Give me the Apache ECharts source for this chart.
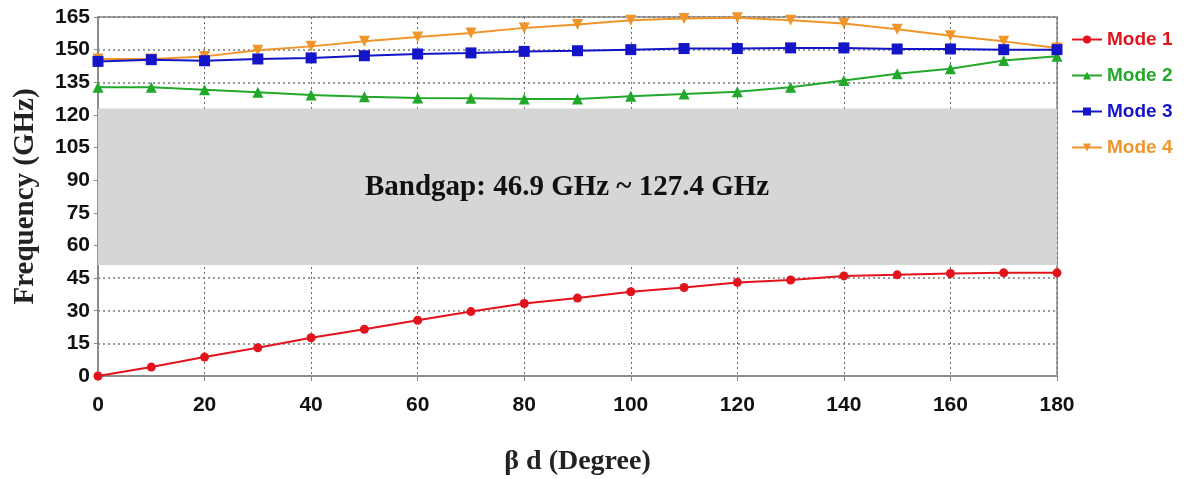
<!DOCTYPE html>
<html><head><meta charset="utf-8">
<script src="https://cdn.jsdelivr.net/npm/echarts@6/dist/echarts.min.js"></script>
<style>html,body{margin:0;padding:0;background:#fff}#c{width:1186px;height:479px}</style>
</head><body><div id="c"></div>
<script>
const betaD = [0,10,20,30,40,50,60,70,80,90,100,110,120,130,140,150,160,170,180];
const mode1 = [0,4.1,8.7,13,17.6,21.5,25.6,29.6,33.3,35.8,38.7,40.7,43,44.1,46,46.5,47.1,47.4,47.4];
const mode2 = [132.7,132.7,131.6,130.4,129.1,128.4,127.8,127.6,127.3,127.3,128.6,129.6,130.7,132.7,135.8,138.9,141.2,145,147];
const mode3 = [144.6,145.4,144.9,145.7,146.2,147.2,148,148.5,149.2,149.5,150,150.5,150.5,150.8,150.8,150.3,150.3,150,150];
const mode4 = [145.7,145.7,146.9,149.7,151.5,153.8,155.8,157.7,160,161.5,163.5,164.3,164.6,163.5,162,159.4,156.4,153.8,150.8];
const seriesNames = ['Mode 1','Mode 2','Mode 3','Mode 4'];
const bandgap = [51, 123];
const bandText = 'Bandgap: 46.9 GHz ~ 127.4 GHz';

const colors = ['#e3131c','#22a82a','#1414c8','#f0952a'];
const symbols = ['circle','triangle','rect','triangle'];
const rot = [0,0,0,180];
const sets = [mode1,mode2,mode3,mode4];
const sansBold = "'Liberation Sans',Arial,sans-serif";
const serif = "'Liberation Serif','Times New Roman',serif";
const tickFont = {fontFamily:sansBold, fontWeight:'bold', fontSize:21, color:'#111'};

const chart = echarts.init(document.getElementById('c'));
const series = sets.map((d,i)=>({
  name: seriesNames[i], type:'line',
  data: betaD.map((x,j)=>[x,d[j]]),
  symbol: symbols[i], symbolRotate: rot[i], symbolSize: i===0?9:11,
  lineStyle:{color:colors[i], width:2},
  itemStyle:{color:colors[i]},
  z: 5 + (i===3?0:i),
  animation:false
}));
series.unshift({
  type:'line', data:[], z:-1, silent:true,
  markArea:{
    silent:true,
    itemStyle:{color:'#d6d6d6'},
    label:{show:false},
    data:[[{yAxis:bandgap[0]},{yAxis:bandgap[1]}]]
  }
});
chart.setOption({
  backgroundColor:'#fff',
  animation:false,
  grid:{left:98, right:129, top:17, bottom:103, outerBoundsMode:'none', containLabel:false,
        show:true, borderColor:'#888', borderWidth:1.5, backgroundColor:'transparent'},
  legend:{
    orient:'vertical', left:1066, top:25, itemGap:17, itemWidth:30, itemHeight:10,
    data: seriesNames.map((n,i)=>({name:n, textStyle:{color:colors[i]}})),
    textStyle:{fontFamily:sansBold, fontWeight:'bold', fontSize:19}
  },
  xAxis:{
    type:'value', min:0, max:180, interval:20,
    name:'β d (Degree)', nameLocation:'middle', nameGap:72,
    nameTextStyle:{fontFamily:serif, fontWeight:'bold', fontSize:28, color:'#222'},
    axisLine:{lineStyle:{color:'#888', width:1.5}},
    axisTick:{show:true, length:5, lineStyle:{color:'#888'}},
    axisLabel:Object.assign({margin:19}, tickFont),
    splitLine:{show:true, lineStyle:{color:'#666', type:[2,3], width:1}}
  },
  yAxis:{
    type:'value', min:0, max:165, interval:15,
    name:'Frequency (GHz)', nameLocation:'middle', nameGap:58, nameRotate:90,
    nameTextStyle:{fontFamily:serif, fontWeight:'bold', fontSize:29, color:'#222'},
    axisLine:{show:true, lineStyle:{color:'#888', width:1.5}},
    axisTick:{show:true, length:4, lineStyle:{color:'#888'}},
    axisLabel:Object.assign({margin:8}, tickFont),
    splitLine:{show:true, lineStyle:{color:'#777', type:[2,3], width:1.5}}
  },
  graphic:[{
    type:'text', left:365, top:173, z:20,
    style:{text:bandText, fill:'#111', font:"bold 29px 'Liberation Serif','Times New Roman',serif"}
  }],
  series: series
});
</script></body></html>
